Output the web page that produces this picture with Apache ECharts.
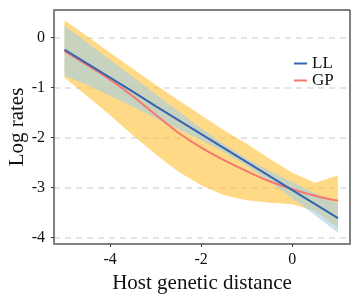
<!DOCTYPE html>
<html>
<head>
<meta charset="utf-8">
<script src="https://cdn.jsdelivr.net/npm/echarts@6/dist/echarts.min.js"></script>
<style>
html,body{margin:0;padding:0;background:#fff;}
#chart{width:360px;height:300px;}
</style>
</head>
<body>
<div id="chart"></div>
<script>
// x positions (host genetic distance)
const xs = [-5, -4.5, -4, -3.5, -3, -2.5, -2, -1.5, -1, -0.5, 0, 0.5, 1];
// LL (log-linear) fit and its confidence band
const llMean  = [-0.24, -0.52, -0.80, -1.08, -1.37, -1.65, -1.93, -2.21, -2.49, -2.77, -3.05, -3.33, -3.61];
const llUpper = [0.24, -0.10, -0.44, -0.78, -1.13, -1.47, -1.81, -2.13, -2.42, -2.66, -2.89, -3.11, -3.32];
const llLower = [-0.76, -0.94, -1.16, -1.38, -1.61, -1.83, -2.05, -2.29, -2.56, -2.88, -3.21, -3.55, -3.90];
// GP fit and its credible band
const gpMean  = [-0.27, -0.55, -0.84, -1.17, -1.54, -1.90, -2.20, -2.45, -2.67, -2.87, -3.03, -3.16, -3.26];
const gpUpper = [0.35, 0.03, -0.30, -0.62, -0.94, -1.25, -1.55, -1.85, -2.12, -2.42, -2.70, -2.90, -2.75];
const gpLower = [-0.80, -1.17, -1.55, -1.95, -2.33, -2.68, -2.95, -3.15, -3.25, -3.30, -3.33, -3.47, -3.80];
// axis ticks
const xTicks = [-4, -2, 0];
const yTicks = [0, -1, -2, -3, -4];
const seriesNames = ['LL', 'GP'];
const xTitle = 'Host genetic distance';
const yTitle = 'Log rates';

const FONT = 'Liberation Serif';
const pairs = (ys) => xs.map((x, i) => [x, ys[i]]);
const bandData = (lo, hi) => xs.map((x, i) => [x, lo[i], hi[i]]);

function bandSeries(lo, hi, color) {
  return {
    type: 'custom', silent: true, clip: true,
    data: bandData(lo, hi),
    encode: {x: 0, y: [1, 2]},
    renderItem: function (params, api) {
      if (params.dataIndex !== 0) return null;
      const top = [], bot = [];
      for (let i = 0; i < xs.length; i++) {
        top.push(api.coord([xs[i], hi[i]]));
        bot.push(api.coord([xs[i], lo[i]]));
      }
      const pts = top.concat(bot.reverse());
      return {type: 'polygon', shape: {points: pts}, style: {fill: color}};
    }
  };
}

const chart = echarts.init(document.getElementById('chart'), null, {renderer: 'canvas'});
chart.setOption({
  animation: false,
  grid: {left: 54, top: 10, right: 10, bottom: 56, outerBoundsMode: 'none', containLabel: false,
         show: true, borderColor: '#000', borderWidth: 1, backgroundColor: 'transparent'},
  legend: {
    data: seriesNames,
    orient: 'vertical', left: 294, top: 55, padding: 0, itemGap: 0,
    icon: 'rect', itemWidth: 13, itemHeight: 2,
    textStyle: {fontFamily: FONT, fontSize: 17, color: '#111', lineHeight: 15}
  },
  xAxis: {
    type: 'value', min: -5.23, max: 1.265,
    name: xTitle, nameLocation: 'middle', nameGap: 26,
    nameTextStyle: {fontFamily: FONT, fontSize: 21, color: '#111'},
    axisLine: {show: true, onZero: false, lineStyle: {color: '#808080', width: 2}},
    axisTick: {show: true, length: 3, customValues: xTicks, lineStyle: {color: '#333', width: 1}},
    axisLabel: {customValues: xTicks, margin: 8, fontFamily: FONT, fontSize: 16, color: '#111'},
    splitLine: {show: false}
  },
  yAxis: {
    type: 'value', min: -4.126, max: 0.554,
    name: yTitle, nameLocation: 'middle', nameGap: 26, nameMoveOverlap: false,
    nameTextStyle: {fontFamily: FONT, fontSize: 21, color: '#111'},
    axisLine: {show: true, onZero: false, lineStyle: {color: '#808080', width: 2}},
    axisTick: {show: true, length: 3, customValues: yTicks, lineStyle: {color: '#333', width: 1}},
    axisLabel: {customValues: yTicks, margin: 9, fontFamily: FONT, fontSize: 16, color: '#111'},
    splitLine: {show: true, lineStyle: {color: '#dcdcdc', width: 1.5, type: [6, 5]}}
  },
  series: [
    bandSeries(gpLower, gpUpper, 'rgba(255,196,60,0.62)'),
    {type: 'line', name: 'GP', data: pairs(gpMean), smooth: 0.4, symbol: 'none',
     color: '#f47770', lineStyle: {color: '#f47770', width: 2}},
    bandSeries(llLower, llUpper, 'rgba(160,205,232,0.58)'),
    {type: 'line', name: 'LL', data: pairs(llMean), symbol: 'none',
     color: '#3565b0', lineStyle: {color: '#3565b0', width: 2}}
  ]
});
</script>
</body>
</html>
